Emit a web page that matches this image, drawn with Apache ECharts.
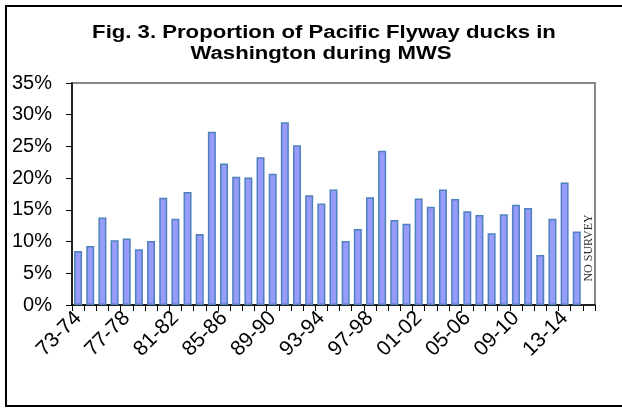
<!DOCTYPE html>
<html>
<head>
<meta charset="utf-8">
<script src="https://cdn.jsdelivr.net/npm/echarts@6/dist/echarts.min.js"></script>
<style>
html,body{margin:0;padding:0;background:#fff;}
#chart{width:622px;height:408px;}
</style>
</head>
<body>
<div id="chart"></div>
<script>
var seasons = ['73-74','74-75','75-76','76-77','77-78','78-79','79-80','80-81','81-82','82-83',
  '83-84','84-85','85-86','86-87','87-88','88-89','89-90','90-91','91-92','92-93',
  '93-94','94-95','95-96','96-97','97-98','98-99','99-00','00-01','01-02','02-03',
  '03-04','04-05','05-06','06-07','07-08','08-09','09-10','10-11','11-12','12-13',
  '13-14','14-15','15-16'];
var proportion = [8.5, 9.3, 13.8, 10.2, 10.5, 8.8, 10.1, 16.9, 13.6, 17.8,
  11.2, 27.3, 22.3, 20.2, 20.1, 23.3, 20.7, 28.8, 25.2, 17.3,
  16.0, 18.2, 10.1, 12.0, 17.0, 24.3, 13.4, 12.8, 16.8, 15.5,
  18.2, 16.7, 14.8, 14.2, 11.3, 14.3, 15.8, 15.3, 7.9, 13.6,
  19.3, 11.6, null];
var yTicks = [0, 5, 10, 15, 20, 25, 30, 35];
var titleLines = ['Fig. 3. Proportion of Pacific Flyway ducks in', 'Washington during MWS'];
var noSurveyNote = { season: '15-16', value: 9.0, text: 'NO SURVEY' };

var titleFont = 'bold 18px Arial, "Liberation Sans", sans-serif';
var chart = echarts.init(document.getElementById('chart'), null, {renderer: 'canvas'});
chart.setOption({
  backgroundColor: '#ffffff',
  animation: false,
  graphic: [{
    type: 'rect',
    shape: {x: 6, y: 6, width: 700, height: 400},
    style: {fill: 'none', stroke: '#000', lineWidth: 2},
    silent: true
  }, {
    type: 'text', x: 324, y: 33, scaleX: 1.23, silent: true,
    style: {text: titleLines[0], font: titleFont, fill: '#000', textAlign: 'center', textVerticalAlign: 'middle'}
  }, {
    type: 'text', x: 321, y: 54, scaleX: 1.23, silent: true,
    style: {text: titleLines[1], font: titleFont, fill: '#000', textAlign: 'center', textVerticalAlign: 'middle'}
  }],
  grid: {
    left: 72, right: 27, top: 83, bottom: 103,
    show: true, borderColor: '#888', borderWidth: 2, backgroundColor: 'transparent'
  },
  xAxis: {
    type: 'category',
    data: seasons,
    boundaryGap: true,
    axisLine: {show: true, lineStyle: {color: '#000', width: 1.5}},
    axisTick: {show: true, interval: 0, length: 6, lineStyle: {color: '#000', width: 1}},
    axisLabel: {
      interval: 3, rotate: 45, margin: 10,
      fontFamily: 'Arial, Liberation Sans, sans-serif', fontSize: 21, color: '#000'
    },
    splitLine: {show: false}
  },
  yAxis: {
    type: 'value',
    min: yTicks[0], max: yTicks[yTicks.length - 1], interval: 5,
    axisLine: {show: true, lineStyle: {color: '#000', width: 1.5}},
    axisTick: {show: true, length: 6, lineStyle: {color: '#000', width: 1}},
    axisLabel: {
      margin: 20, formatter: '{value}%',
      fontFamily: 'Arial, Liberation Sans, sans-serif', fontSize: 20, color: '#000'
    },
    splitLine: {show: false}
  },
  series: [{
    type: 'bar',
    data: proportion,
    barWidth: 8,
    itemStyle: {color: '#979BFA', borderColor: '#4F81BD', borderWidth: 1.5}
  }, {
    type: 'scatter',
    data: [[noSurveyNote.season, noSurveyNote.value]],
    symbolSize: 0,
    silent: true,
    label: {
      show: true,
      formatter: noSurveyNote.text,
      rotate: 90,
      position: 'inside',
      fontFamily: 'Times New Roman, Liberation Serif, serif',
      fontSize: 12,
      color: '#000'
    }
  }]
});
</script>
</body>
</html>
